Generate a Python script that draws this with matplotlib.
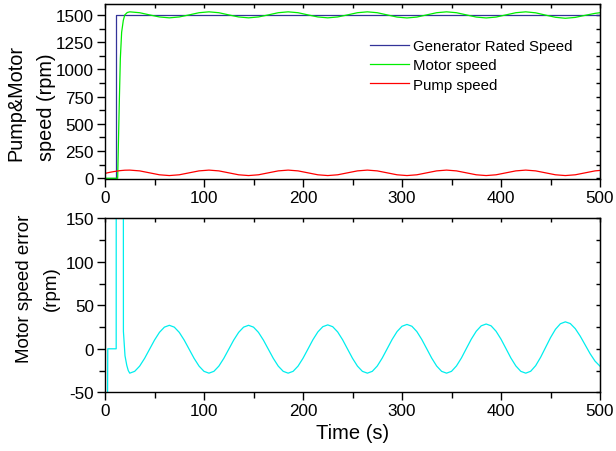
import numpy as np
import matplotlib
matplotlib.use("Agg")
import matplotlib.pyplot as plt
from matplotlib.ticker import MultipleLocator

plt.rcParams['font.family'] = ['Liberation Sans', 'DejaVu Sans']
plt.rcParams['axes.unicode_minus'] = False

# ---------------- data ----------------
gen_t = [0, 11, 11, 500]
gen_speed = [0, 0, 1500, 1500]

motor_t_start = [0, 12.8, 13.5, 14.5, 15.5, 16.8, 18.5, 20, 22.5]
motor_start = [0, 0, 300, 720, 1100, 1340, 1450, 1500, 1522]
motor_t_reg = list(np.arange(25, 500, 10)) + [500]
motor_reg = [1528, 1520, 1500, 1481, 1473, 1481, 1500, 1520,
             1528, 1520, 1500, 1481, 1473, 1481, 1500, 1520,
             1528, 1520, 1500, 1481, 1473, 1481, 1500, 1520,
             1528, 1520, 1500, 1480, 1472, 1480, 1500, 1520,
             1528, 1520, 1500, 1480, 1472, 1480, 1500, 1520,
             1528, 1519, 1498, 1478, 1469, 1477, 1496, 1514,
             1520]

pump_t_start = [0, 5, 10, 15, 20]
pump_start = [45, 55, 63, 70, 74]
pump_t_reg = list(np.arange(25, 500, 10)) + [500]
pump_reg = [75, 68, 50, 32, 25, 32, 50, 68,
            75, 68, 50, 32, 25, 32, 50, 68,
            75, 68, 50, 32, 25, 32, 50, 68,
            75, 68, 50, 32, 25, 32, 50, 68,
            75, 68, 50, 32, 25, 32, 50, 68,
            75, 68, 50, 32, 25, 32, 50, 68,
            72]

err_t_start = [0, 0.5, 2.5, 2.8, 11.3, 11.6, 18.2, 18.6, 20.2, 22.0, 23.5]
err_start = [0, -80, -80, 0, 0, 1500, 1500, 20, -8, -19, -25]
err_t_reg = list(np.arange(25, 501, 5))
err_reg = [-28.0, -25.9, -19.9, -11.0, -0.5, 10.0, 18.9, 24.9, 27.0, 24.9, 18.9, 10.0, -0.5, -11.0, -19.9, -25.9,
           -28.0, -25.9, -19.9, -11.0, -0.5, 10.0, 18.9, 24.9, 27.0, 24.9, 18.9, 10.0, -0.5, -11.0, -19.9, -25.9,
           -28.0, -25.9, -19.9, -10.9, -0.3, 10.4, 19.4, 25.4, 27.5, 25.4, 19.4, 10.4, -0.3, -10.9, -19.9, -25.9,
           -28.0, -25.9, -19.8, -10.7, 0.0, 10.7, 19.8, 25.9, 28.0, 25.9, 19.8, 10.7, 0.0, -10.7, -19.8, -25.9,
           -28.0, -25.9, -19.7, -10.6, 0.3, 11.1, 20.2, 26.4, 28.5, 26.4, 20.2, 11.1, 0.3, -10.6, -19.7, -25.9,
           -28.0, -25.8, -19.4, -9.8, 1.5, 12.8, 22.4, 28.8, 31.0, 29.0, 23.2, 14.6, 4.5, -5.6, -14.2, -20.0]

top_yticks = [0, 250, 500, 750, 1000, 1250, 1500]
bot_yticks = [-50, 0, 50, 100, 150]
xticks = [0, 100, 200, 300, 400, 500]

# ---------------- figure ----------------
W, H = 616, 452
fig = plt.figure(figsize=(W / 100, H / 100), dpi=100)

def rect(l, t, r, b):
    return [l / W, 1 - b / H, (r - l) / W, (b - t) / H]

ax1 = fig.add_axes(rect(105, 5, 600, 179.5))
ax2 = fig.add_axes(rect(105, 219.3, 600, 393.3))

lw = 0.9
ax1.plot(gen_t, gen_speed, color='#333399', lw=lw, label='Generator Rated Speed')
ax1.plot(motor_t_start + motor_t_reg, motor_start + motor_reg, color='#00ee00', lw=lw, label='Motor speed')
ax1.plot(pump_t_start + pump_t_reg, pump_start + pump_reg, color='#ff0000', lw=lw, label='Pump speed')

ax2.plot(err_t_start + err_t_reg, err_start + err_reg, color='#00eeee', lw=lw)

ax1.set_xlim(0, 500)
ax1.set_ylim(-2, 1600)
ax2.set_xlim(0, 500)
ax2.set_ylim(-50, 150)

ax1.set_xticks(xticks)
ax2.set_xticks(xticks)
ax1.set_yticks(top_yticks)
ax2.set_yticks(bot_yticks)
ax1.xaxis.set_minor_locator(MultipleLocator(50))
ax2.xaxis.set_minor_locator(MultipleLocator(50))
ax1.yaxis.set_minor_locator(MultipleLocator(125))
ax2.yaxis.set_minor_locator(MultipleLocator(25))

for ax in (ax1, ax2):
    for s in ax.spines.values():
        s.set_linewidth(1.0)
    ax.tick_params(axis='both', which='major', direction='out', length=6, width=1.0,
                   labelsize=12.3, pad=2, top=False, right=False)
    ax.tick_params(axis='both', which='minor', direction='out', length=4, width=1.0,
                   top=False, right=False)
    sec_x = ax.secondary_xaxis('top')
    sec_x.set_xticks(np.arange(0, 501, 50))
    sec_x.tick_params(direction='in', length=3, width=1.0, labeltop=False)
    sec_x.set_xticklabels([])

sec1 = ax1.secondary_yaxis('right')
sec1.set_yticks(np.arange(0, 1601, 125))
sec1.tick_params(direction='in', length=3, width=1.0)
sec1.set_yticklabels([])
sec2 = ax2.secondary_yaxis('right')
sec2.set_yticks(np.arange(-50, 151, 25))
sec2.tick_params(direction='in', length=3, width=1.0)
sec2.set_yticklabels([])

ax1.set_ylabel('Pump&Motor\nspeed (rpm)', fontsize=14.3, multialignment='left', linespacing=1.75)
ax1.yaxis.set_label_coords(-0.099, 0.44)
ax2.set_ylabel('Motor speed error\n(rpm)', fontsize=13.5, linespacing=1.8)
ax2.yaxis.set_label_coords(-0.091, 0.60)
ax2.set_xlabel('Time (s)', fontsize=14.5, labelpad=3)

leg = ax1.legend(loc='upper left', bbox_to_anchor=(0.52, 0.842), frameon=False,
                 fontsize=10.8, handlelength=2.6, handletextpad=0.3,
                 labelspacing=0.35, borderpad=0)

fig.savefig('out.png', dpi=100)
